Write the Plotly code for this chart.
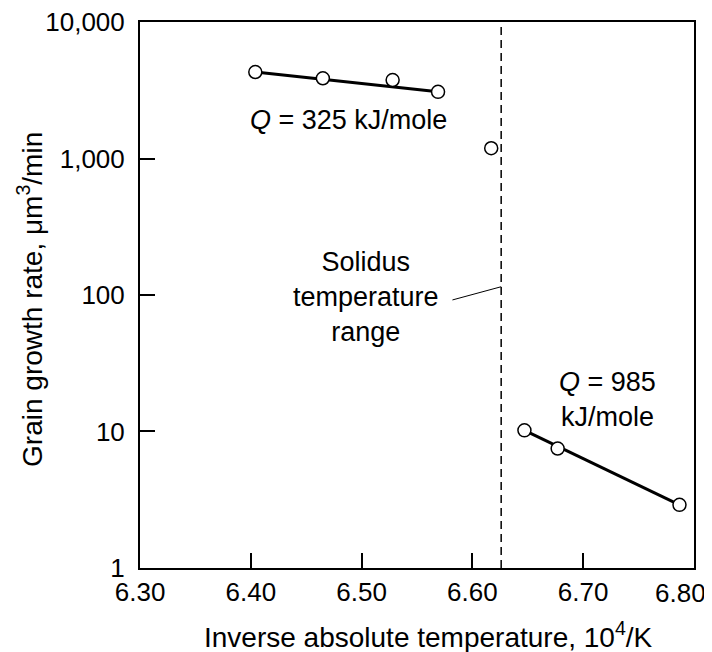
import numpy as np
import plotly.graph_objects as go

# Data
x_low_T = [6.404, 6.465, 6.528, 6.569]      # 10^4/K, Q = 325 kJ/mole branch
y_low_T = [4300, 3870, 3760, 3080]          # µm^3/min
x_mid = [6.617]
y_mid = [1190]
x_high = [6.647, 6.677, 6.787]              # Q = 985 kJ/mole branch
y_high = [10.2, 7.5, 2.9]
solidus_x = 6.626

x_ticks = [6.30, 6.40, 6.50, 6.60, 6.70, 6.80]
x_ticklabels = ["6.30", "6.40", "6.50", "6.60", "6.70", "6.80"]
y_ticks = [1, 10, 100, 1000, 10000]
y_ticklabels = ["1", "10", "100", "1,000", "10,000"]

FONT = "Liberation Sans, Arial, sans-serif"
marker = dict(symbol="circle", size=13, color="white", line=dict(color="black", width=1.5))

fig = go.Figure()
# fit lines (through end points of each branch)
fig.add_trace(go.Scatter(x=[x_low_T[0], x_low_T[-1]], y=[y_low_T[0], y_low_T[-1]],
                         mode="lines", line=dict(color="black", width=3), showlegend=False))
fig.add_trace(go.Scatter(x=[x_high[0], x_high[-1]], y=[y_high[0], y_high[-1]],
                         mode="lines", line=dict(color="black", width=3), showlegend=False))
# data points
for xs, ys in [(x_low_T, y_low_T), (x_mid, y_mid), (x_high, y_high)]:
    fig.add_trace(go.Scatter(x=xs, y=ys, mode="markers", marker=marker, showlegend=False))

# solidus dashed line
fig.add_shape(type="line", x0=solidus_x, x1=solidus_x, y0=0, y1=1, xref="x", yref="paper",
              line=dict(color="black", width=1.5, dash="8px,5px"))
# leader line (shape coords on log axis are data values)
fig.add_shape(type="line", x0=6.582, x1=solidus_x, y0=92, y1=115,
              xref="x", yref="y", line=dict(color="black", width=1))

fig.add_annotation(x=6.5036, y=np.log10(100), yshift=-2, text="Solidus<br>temperature<br>range",
                   showarrow=False, font=dict(size=27, color="black", family=FONT), align="center")
fig.add_annotation(x=6.4878, y=np.log10(1900), text="<i>Q</i> = 325 kJ/mole",
                   showarrow=False, font=dict(size=27, color="black", family=FONT))
fig.add_annotation(x=6.7216, y=np.log10(17.3), text="<i>Q</i> = 985<br>kJ/mole",
                   showarrow=False, font=dict(size=27, color="black", family=FONT), align="center")

# last x tick label, pulled inside the page like in the original
fig.add_annotation(x=x_ticks[-1], y=0, xref="x", yref="paper", xanchor="right", yanchor="middle",
                   xshift=14, yshift=-25, text=x_ticklabels[-1], showarrow=False,
                   font=dict(size=26, color="black", family=FONT))

# axis titles
fig.add_annotation(x=0.52, y=0, xref="paper", yref="paper", yanchor="middle", xanchor="center",
                   yshift=-67, text="Inverse absolute temperature, 10<sup>4</sup>/K", showarrow=False,
                   font=dict(size=28, color="black", family=FONT))
fig.add_annotation(x=0, y=0.491, xref="paper", yref="paper", xanchor="center", yanchor="middle",
                   xshift=-110, textangle=-90,
                   text="Grain growth rate, μm<sup>3</sup>/min", showarrow=False,
                   font=dict(size=28, color="black", family=FONT))

fig.update_xaxes(range=[6.2999, 6.8001], tickvals=x_ticks, ticktext=x_ticklabels[:-1] + [""],
                 ticks="inside", ticklen=15, tickwidth=1.5, tickcolor="black",
                 showline=True, linecolor="black", linewidth=2, mirror=True,
                 showgrid=False, zeroline=False, ticklabeloverflow="allow", automargin=False,
                 tickfont=dict(size=26, color="black", family=FONT))
fig.update_yaxes(type="log", range=[-0.0002, 4.0002], tickvals=y_ticks, ticktext=y_ticklabels,
                 ticks="inside", ticklen=15, tickwidth=1.5, tickcolor="black",
                 showline=True, linecolor="black", linewidth=2, mirror=True,
                 showgrid=False, zeroline=False, ticklabelstandoff=8, ticklabeloverflow="allow",
                 automargin=False, tickfont=dict(size=26, color="black", family=FONT))

fig.update_layout(width=704, height=644, margin=dict(l=132, r=18, t=14, b=84, autoexpand=False),
                  plot_bgcolor="white", paper_bgcolor="white", showlegend=False)
fig.write_html("out.html")
